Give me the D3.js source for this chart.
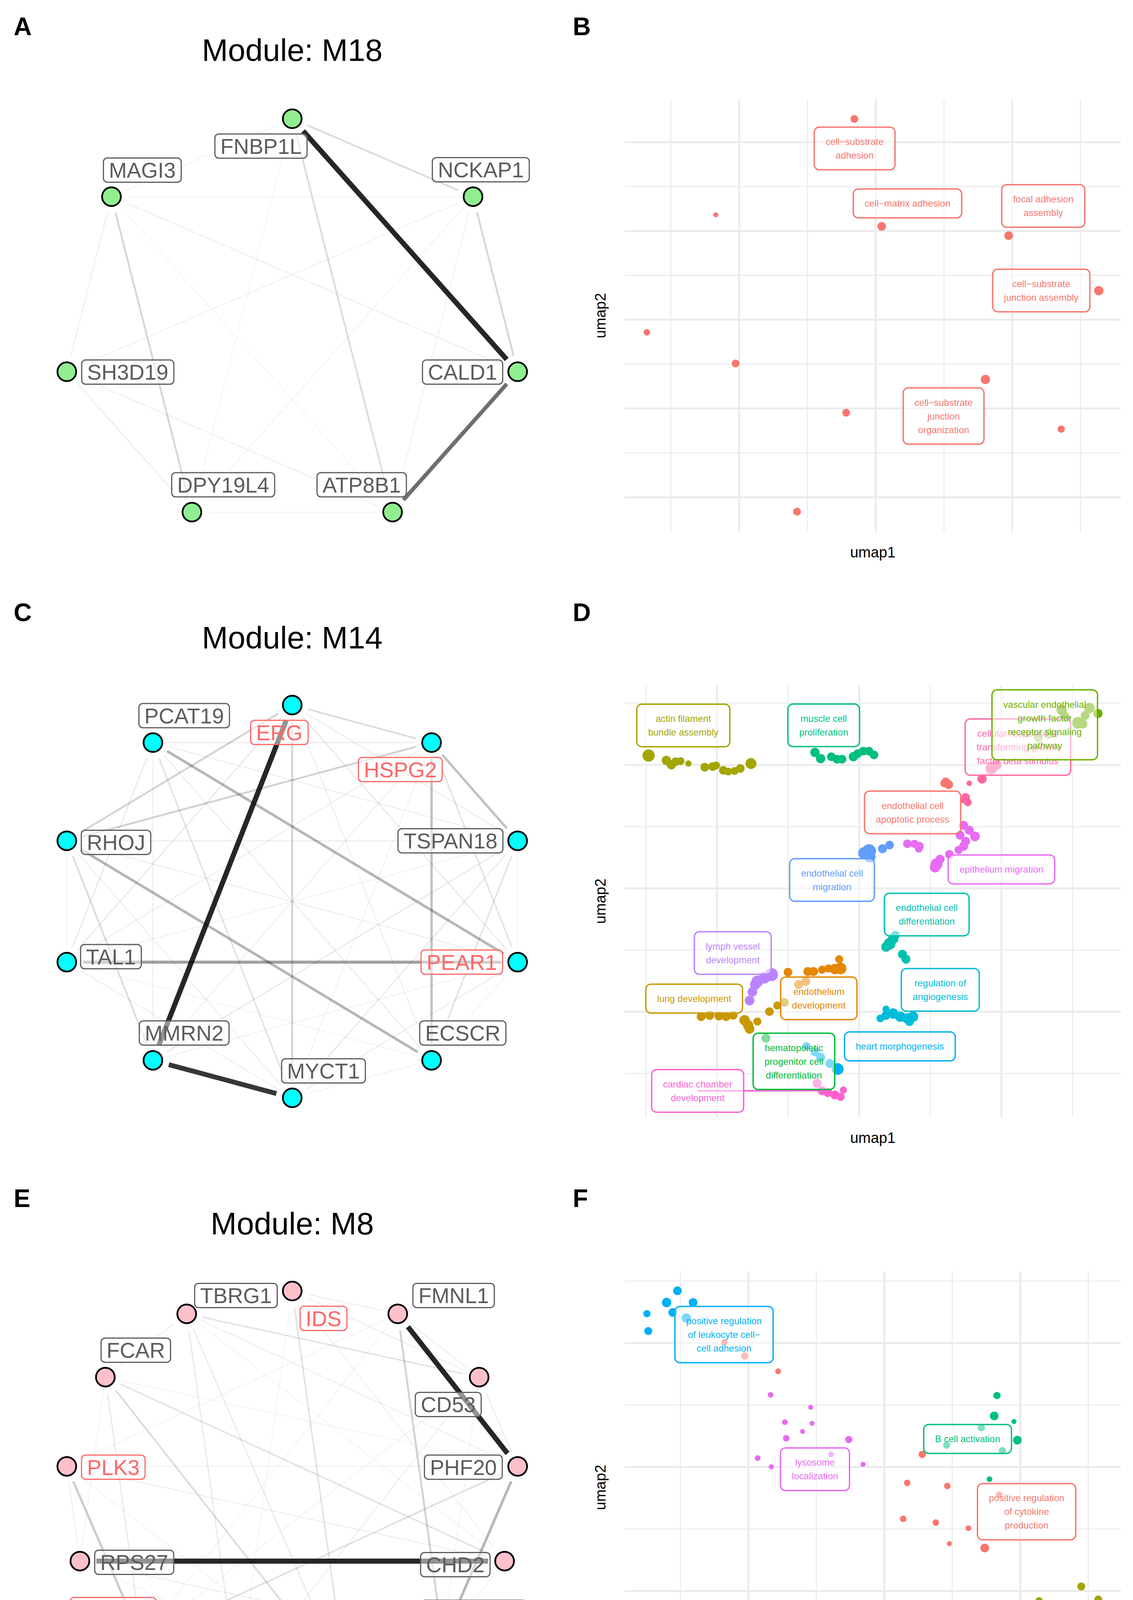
<!DOCTYPE html>
<html>
<head>
<meta charset="utf-8">
<script src="https://cdn.jsdelivr.net/npm/d3@7"></script>
<style>
  body { margin: 0; background: #fff; }
  svg { display: block; }
</style>
</head>
<body>
<div class="chart"></div>
<script>
// ---- network data (co-expression modules) ----
let m18Genes = ['FNBP1L', 'NCKAP1', 'CALD1', 'ATP8B1', 'DPY19L4', 'SH3D19', 'MAGI3'];
let m18Red = [];
let m18Edges = [
  ['FNBP1L', 'CALD1', 1.0], ['CALD1', 'ATP8B1', 0.75], ['FNBP1L', 'NCKAP1', 0.25],
  ['FNBP1L', 'ATP8B1', 0.25], ['MAGI3', 'DPY19L4', 0.28], ['NCKAP1', 'CALD1', 0.28],
  ['SH3D19', 'DPY19L4', 0.12], ['MAGI3', 'SH3D19', 0.1], ['SH3D19', 'ATP8B1', 0.1],
  ['MAGI3', 'CALD1', 0.1], ['SH3D19', 'NCKAP1', 0.08], ['NCKAP1', 'ATP8B1', 0.08],
  ['FNBP1L', 'MAGI3', 0.06], ['MAGI3', 'NCKAP1', 0.05], ['NCKAP1', 'DPY19L4', 0.05],
  ['FNBP1L', 'DPY19L4', 0.04], ['DPY19L4', 'ATP8B1', 0.04], ['MAGI3', 'ATP8B1', 0.04]
];

let m14Genes = ['ERG', 'HSPG2', 'TSPAN18', 'PEAR1', 'ECSCR', 'MYCT1', 'MMRN2', 'TAL1', 'RHOJ', 'PCAT19'];
let m14Red = ['ERG', 'HSPG2', 'PEAR1'];
let m14Edges = [
  ['ERG', 'MMRN2', 1.0], ['MMRN2', 'MYCT1', 0.95], ['TAL1', 'PEAR1', 0.55],
  ['PCAT19', 'PEAR1', 0.45], ['RHOJ', 'ECSCR', 0.45], ['HSPG2', 'ECSCR', 0.4],
  ['HSPG2', 'TSPAN18', 0.4], ['ERG', 'MYCT1', 0.3], ['HSPG2', 'RHOJ', 0.3],
  ['ERG', 'RHOJ', 0.3], ['ERG', 'HSPG2', 0.25], ['RHOJ', 'MMRN2', 0.25],
  ['PCAT19', 'MYCT1', 0.2], ['TSPAN18', 'ECSCR', 0.2], ['HSPG2', 'PEAR1', 0.2],
  ['ERG', 'PEAR1', 0.15], ['TSPAN18', 'MMRN2', 0.15], ['TSPAN18', 'MYCT1', 0.15],
  ['TAL1', 'PCAT19', 0.15], ['TAL1', 'ERG', 0.15], ['PCAT19', 'HSPG2', 0.12],
  ['RHOJ', 'TSPAN18', 0.12], ['PCAT19', 'ECSCR', 0.12], ['ERG', 'TSPAN18', 0.12],
  ['PEAR1', 'MYCT1', 0.12], ['TAL1', 'MYCT1', 0.1], ['RHOJ', 'PEAR1', 0.1],
  ['TAL1', 'HSPG2', 0.1], ['MMRN2', 'HSPG2', 0.1], ['PCAT19', 'TSPAN18', 0.1],
  ['PCAT19', 'MMRN2', 0.1], ['ERG', 'ECSCR', 0.1], ['RHOJ', 'MYCT1', 0.1],
  ['ECSCR', 'MYCT1', 0.08], ['PEAR1', 'MMRN2', 0.08], ['TAL1', 'TSPAN18', 0.08],
  ['HSPG2', 'MYCT1', 0.08], ['TAL1', 'ECSCR', 0.06], ['RHOJ', 'TAL1', 0.06],
  ['PEAR1', 'ECSCR', 0.06], ['TSPAN18', 'PEAR1', 0.05]
];

let m8Genes = ['IDS', 'FMNL1', 'CD53', 'PHF20', 'CHD2', 'DNAJB14', 'RAB11FIP1', 'FRYL', 'NAMPT', 'RPS27', 'PLK3', 'FCAR', 'TBRG1'];
let m8Red = ['IDS', 'PLK3', 'NAMPT'];
let m8Edges = [
  ['FMNL1', 'PHF20', 1.0], ['RPS27', 'CHD2', 1.0], ['PHF20', 'DNAJB14', 0.45],
  ['PLK3', 'NAMPT', 0.35], ['FRYL', 'DNAJB14', 0.3], ['FMNL1', 'DNAJB14', 0.3],
  ['FCAR', 'RAB11FIP1', 0.25], ['IDS', 'RAB11FIP1', 0.2], ['FCAR', 'CHD2', 0.2],
  ['PHF20', 'NAMPT', 0.22], ['TBRG1', 'CD53', 0.2], ['TBRG1', 'RAB11FIP1', 0.15],
  ['TBRG1', 'FRYL', 0.15], ['FCAR', 'NAMPT', 0.15], ['RAB11FIP1', 'DNAJB14', 0.15],
  ['CD53', 'PHF20', 0.12], ['PLK3', 'CHD2', 0.1], ['TBRG1', 'PHF20', 0.1],
  ['IDS', 'CD53', 0.1], ['FCAR', 'TBRG1', 0.1], ['RPS27', 'DNAJB14', 0.1],
  ['CD53', 'FRYL', 0.1], ['FMNL1', 'CD53', 0.1], ['RPS27', 'PLK3', 0.1],
  ['IDS', 'FMNL1', 0.1], ['IDS', 'CHD2', 0.08], ['FRYL', 'RAB11FIP1', 0.08],
  ['NAMPT', 'DNAJB14', 0.08], ['PLK3', 'FMNL1', 0.06], ['TBRG1', 'IDS', 0.05],
  ['PLK3', 'PHF20', 0.06], ['FCAR', 'PHF20', 0.06], ['NAMPT', 'CD53', 0.06],
  ['RPS27', 'FCAR', 0.06], ['RPS27', 'RAB11FIP1', 0.05], ['TBRG1', 'CHD2', 0.05],
  ['PLK3', 'RAB11FIP1', 0.05], ['FMNL1', 'NAMPT', 0.05], ['IDS', 'FRYL', 0.05],
  ['CD53', 'DNAJB14', 0.05], ['FRYL', 'NAMPT', 0.05], ['CHD2', 'DNAJB14', 0.05]
];

// ---- GO term umap data: [term index, umap1, umap2, -log10 padj] ----
let bTerms = ['cell-substrate adhesion', 'cell-matrix adhesion', 'focal adhesion assembly',
  'cell-substrate junction assembly', 'cell-substrate junction organization'];
let bPoints = [
  [0, -0.31, 4.52, 4.7], [0, -2.34, 2.36, 2.2], [0, 0.09, 2.10, 5.6], [0, 1.95, 1.89, 5.6],
  [0, 3.27, 0.65, 6.5], [0, -3.35, -0.29, 3.4], [0, -2.05, -0.99, 4.7], [0, 1.61, -1.35, 6.5],
  [0, -0.43, -2.10, 4.7], [0, 2.72, -2.47, 4.1], [0, -1.15, -4.33, 4.7]
];

let dTerms = ['actin filament bundle assembly', 'muscle cell proliferation',
  'cellular response to transforming growth factor beta stimulus',
  'vascular endothelial growth factor receptor signaling pathway',
  'endothelial cell apoptotic process', 'epithelium migration', 'endothelial cell migration',
  'endothelial cell differentiation', 'lymph vessel development', 'lung development',
  'endothelium development', 'regulation of angiogenesis', 'heart morphogenesis',
  'hematopoietic progenitor cell differentiation', 'cardiac chamber development'];
let dPoints = [
  [0, -2.96, 2.15, 10.8], [0, -2.71, 2.07, 6.5], [0, -2.64, 2.00, 6.5], [0, -2.58, 2.05, 5.6],
  [0, -2.51, 2.06, 4.7], [0, -2.40, 2.02, 3.2], [0, -2.17, 1.96, 5.6], [0, -2.06, 1.97, 5.6],
  [0, -2.01, 1.99, 4.7], [0, -1.91, 1.91, 5.6], [0, -1.84, 1.89, 4.7], [0, -1.75, 1.90, 4.7],
  [0, -1.67, 1.94, 5.6], [0, -1.52, 2.02, 8.8],
  [1, -0.62, 2.20, 6.5], [1, -0.54, 2.10, 6.5], [1, -0.39, 2.13, 5.6], [1, -0.31, 2.09, 5.6],
  [1, -0.24, 2.09, 5.6], [1, -0.08, 2.13, 6.5], [1, -0.02, 2.18, 5.6], [1, 0.06, 2.22, 5.6],
  [1, 0.14, 2.22, 5.6], [1, 0.21, 2.16, 5.6],
  [2, 1.86, 1.94, 10], [2, 1.93, 2.00, 8], [2, 1.73, 1.77, 6.5], [2, 1.55, 1.70, 2.5],
  [2, 1.50, 1.47, 5.6], [2, 1.53, 1.39, 4.7], [2, 1.47, 1.43, 4],
  [3, 3.36, 2.83, 6.5], [3, 3.24, 2.92, 8], [3, 3.18, 2.80, 6], [3, 3.08, 2.68, 10],
  [3, 3.15, 2.66, 6], [3, 2.85, 2.89, 8], [3, 2.90, 2.78, 6], [3, 2.67, 2.50, 7], [3, 2.52, 2.44, 6],
  [4, 1.22, 1.72, 6], [4, 1.26, 1.68, 6], [4, 1.20, 1.70, 5],
  [5, 1.47, 1.02, 6], [5, 1.55, 0.94, 6], [5, 1.63, 0.84, 7], [5, 1.42, 0.86, 6], [5, 1.50, 0.76, 6],
  [5, 1.47, 0.68, 6], [5, 1.40, 0.62, 5], [5, 1.27, 0.55, 5.6], [5, 1.14, 0.47, 6], [5, 1.09, 0.39, 10],
  [5, 1.07, 0.34, 8], [5, 0.68, 0.72, 5.6], [5, 0.78, 0.72, 5], [5, 0.85, 0.68, 5.6], [5, 0.84, 0.64, 4.7],
  [6, 0.14, 0.60, 14], [6, 0.15, 0.51, 10], [6, 0.07, 0.57, 10], [6, 0.33, 0.64, 6], [6, 0.43, 0.70, 5.6],
  [7, 0.43, -0.90, 10], [7, 0.48, -0.82, 8], [7, 0.38, -0.95, 7], [7, 0.51, -0.76, 5.6],
  [7, 0.61, -1.07, 6], [7, 0.66, -1.15, 6],
  [8, -1.23, -1.40, 12], [8, -1.33, -1.45, 10], [8, -1.43, -1.51, 10], [8, -1.46, -1.56, 8],
  [8, -1.50, -1.68, 7], [8, -1.54, -1.82, 7],
  [9, -2.22, -2.08, 6], [9, -2.10, -2.06, 6], [9, -1.97, -2.07, 6], [9, -1.87, -2.08, 6],
  [9, -1.77, -2.06, 5.6], [9, -1.61, -2.14, 8], [9, -1.56, -2.22, 8], [9, -1.54, -2.28, 7],
  [9, -1.43, -2.16, 5], [9, -1.26, -2.00, 5.6], [9, -1.15, -1.90, 5], [9, -1.05, -1.85, 5.6],
  [10, -1.00, -1.36, 5.6], [10, -0.72, -1.35, 6], [10, -0.64, -1.35, 6], [10, -0.52, -1.32, 5],
  [10, -0.43, -1.30, 5], [10, -0.34, -1.31, 8], [10, -0.26, -1.30, 10], [10, -0.28, -1.15, 5],
  [10, -0.85, -1.56, 6], [10, -0.75, -1.51, 6],
  [11, 0.30, -2.11, 4.7], [11, 0.38, -1.96, 4], [11, 0.38, -2.06, 6], [11, 0.48, -2.03, 8],
  [11, 0.58, -2.08, 8], [11, 0.68, -2.11, 8], [11, 0.76, -2.08, 8], [11, 0.71, -2.16, 6],
  [12, -0.30, -2.93, 10], [12, -0.41, -2.84, 6], [12, -0.54, -2.74, 6], [12, -0.62, -2.65, 6],
  [12, -0.74, -2.56, 5],
  [13, -1.31, -2.43, 6],
  [14, -0.52, -3.28, 6], [14, -0.44, -3.31, 6], [14, -0.34, -3.35, 6], [14, -0.26, -3.38, 5],
  [14, -0.22, -3.27, 4], [14, -0.59, -3.16, 6]
];

let fTerms = ['positive regulation of cytokine production', 'RNA splicing', 'B cell activation',
  'positive regulation of leukocyte cell-cell adhesion', 'lysosome localization'];
let fPoints = [
  [3, -3.04, 2.84, 5.7], [3, -3.20, 2.65, 6.7], [3, -2.81, 2.65, 5.7], [3, -3.49, 2.47, 4.1],
  [3, -3.11, 2.49, 5.7], [3, -3.47, 2.19, 4.8], [3, -2.91, 2.40, 6.7],
  [0, -2.35, 2.01, 3.4], [0, -2.05, 1.79, 4.1], [0, -1.56, 1.54, 2.7], [0, 0.56, 0.20, 4.1],
  [0, 0.34, -0.26, 3.4], [0, 0.93, -0.31, 3.4], [0, 0.28, -0.84, 3.4], [0, 0.76, -0.90, 3.4],
  [0, 1.24, -0.99, 2.7], [0, 0.96, -1.24, 2.2], [0, 1.48, -1.31, 5.7], [0, 1.69, -0.45, 3.4],
  [0, 0.94, -3.19, 4.8], [0, 0.87, -3.27, 4.1], [0, 0.67, -3.45, 3.4], [0, 0.64, -3.50, 3.4],
  [4, -1.67, 1.16, 2.7], [4, -1.08, 0.96, 2.2], [4, -1.46, 0.72, 2.7], [4, -1.06, 0.70, 2.2],
  [4, -1.20, 0.57, 2.2], [4, -1.44, 0.46, 3.4], [4, -0.52, 0.44, 4.1], [4, -1.86, 0.14, 2.7],
  [4, -1.66, 0.00, 2.2], [4, -0.78, 0.20, 2.7], [4, -0.31, 0.04, 2.2],
  [2, 1.66, 1.15, 4.1], [2, 1.62, 0.82, 5.7], [2, 1.91, 0.73, 2.2], [2, 1.96, 0.43, 5.7],
  [2, 1.43, 0.63, 4.1], [2, 0.92, 0.35, 4.1], [2, 1.74, 0.26, 4.1], [2, 1.55, -0.20, 2.7],
  [1, 2.90, -1.93, 4.8], [1, 2.28, -2.16, 4.1], [1, 3.15, -2.14, 4.8], [1, 2.66, -2.26, 4.1],
  [1, 2.76, -2.39, 5.7], [1, 3.03, -2.41, 4.1]
];

// legend breaks
let connBreaks = [0, 0.25, 0.5, 0.75, 1];
let nlpBreaks = [1.3, 10, 20, 40];

// ---- layout of repelled labels (pixel nudges / umap coords) ----
let nodeNudge = {
  FNBP1L: [-80, 70], NCKAP1: [20, -69], CALD1: [-141, 1], ATP8B1: [-79, -70],
  DPY19L4: [80, -70], SH3D19: [156, 1], MAGI3: [79, -68],
  ERG: [-33, 70], HSPG2: [-80, 69], TSPAN18: [-172, 0], PEAR1: [-143, 0], ECSCR: [80, -70],
  MYCT1: [80, -69], MMRN2: [80, -70], TAL1: [113, -14], RHOJ: [126, 4], PCAT19: [80, -69],
  IDS: [80, 70], FMNL1: [143, -47], CD53: [-79, 70], PHF20: [-139, 2], CHD2: [-126, 9],
  DNAJB14: [79, -70], RAB11FIP1: [-81, -70], FRYL: [-103, -70], NAMPT: [-73, -77],
  RPS27: [139, 3], PLK3: [119, 2], FCAR: [78, -69], TBRG1: [126, -47]
};
let bLabelAt = [[-0.306, 3.855], [0.468, 2.617], [2.457, 2.559], [2.428, 0.654], [0.997, -2.175]];
let dLabelAt = [[-2.472, 2.637], [-0.497, 2.639], [2.235, 2.287], [2.612, 2.647], [0.753, 1.229],
  [2.003, 0.305], [-0.380, 0.134], [0.952, -0.426], [-1.776, -1.050], [-2.319, -1.789],
  [-0.566, -1.784], [1.143, -1.647], [0.574, -2.563], [-0.916, -2.805], [-2.270, -3.284]];
let fLabelAt = [[2.096, -0.724], [2.376, -2.761], [1.228, 0.449], [-2.355, 2.133], [-1.017, -0.04]];

let bColors = ['#F8766D', '#F8766D', '#F8766D', '#F8766D', '#F8766D'];
let dColors = ['#A3A500', '#00BF7D', '#FF67A4', '#6BB100', '#F8766D', '#E76BF3', '#619CFF',
  '#00C0AF', '#B983FF', '#C99800', '#E58700', '#00BCD8', '#00B0F6', '#00BA38', '#FD61D1'];
let fColors = ['#F8766D', '#A3A500', '#00BF7D', '#00B0F6', '#E76BF3'];

let font = '"Liberation Sans", Arial, Helvetica, sans-serif';

let svg = d3.select('.chart')
  .append('svg')
    .attr('width', 2900)
    .attr('height', 4806)
    .style('font-family', font);

svg.append('rect').attr('width', 2900).attr('height', 4806).attr('fill', '#fff');

// size scale shared by umap points and legend (area proportional)
let nlpArea = d3.scaleLinear().domain([1.3, 40]).range([4.5 * 4.5, 30.5 * 30.5]).clamp(true);
let nlpR = v => Math.sqrt(nlpArea(v));
let connArea = d3.scaleLinear().domain([0, 1]).range([4.5 * 4.5, 27 * 27]);

function panelLetter(txt, x, y) {
  svg.append('text').attr('x', x).attr('y', y)
    .attr('font-size', 64).attr('font-weight', 'bold').text(txt);
}

function drawNetwork(genes, red, edges, fill, top, bottom, title, titleY) {
  let g = svg.append('g');
  let n = genes.length;
  let layout = genes.map((name, i) => ({
    name: name,
    lx: Math.sin(2 * Math.PI * i / n),
    ly: Math.cos(2 * Math.PI * i / n)
  }));
  let x = d3.scaleLinear().domain(d3.extent(layout, d => d.lx)).range([171, 1325]);
  let y = d3.scaleLinear().domain(d3.extent(layout, d => d.ly)).range([bottom, top]);
  let pos = {};
  layout.forEach(d => { pos[d.name] = [x(d.lx), y(d.ly)]; });

  let opac = d3.scalePow().exponent(1.5).domain([0, 1]).range([0.04, 0.85]);
  let wid = d3.scaleLinear().domain([0, 1]).range([1.5, 13]);
  let cap = 42;

  // light edges first so heavy ones sit on top
  let sorted = edges.slice().sort((a, b) => a[2] - b[2]);
  g.selectAll('line.edge')
    .data(sorted)
    .join('line')
      .attr('class', 'edge')
      .each(function(d) {
        let [x1, y1] = pos[d[0]], [x2, y2] = pos[d[1]];
        let len = Math.hypot(x2 - x1, y2 - y1);
        let ux = (x2 - x1) / len, uy = (y2 - y1) / len;
        d3.select(this)
          .attr('x1', x1 + ux * cap).attr('y1', y1 + uy * cap)
          .attr('x2', x2 - ux * cap).attr('y2', y2 - uy * cap);
      })
      .attr('stroke', '#000')
      .attr('stroke-opacity', d => opac(d[2]))
      .attr('stroke-width', d => wid(d[2]));

  g.selectAll('circle.node')
    .data(layout)
    .join('circle')
      .attr('class', 'node')
      .attr('cx', d => x(d.lx))
      .attr('cy', d => y(d.ly))
      .attr('r', 24)
      .attr('fill', fill)
      .attr('stroke', '#000')
      .attr('stroke-width', 4.5);

  layout.forEach(d => {
    let nudge = nodeNudge[d.name];
    let cx = pos[d.name][0] + nudge[0];
    let cy = pos[d.name][1] + nudge[1];
    let col = red.includes(d.name) ? '#FF6666' : '#5c5c5c';
    let lg = g.append('g');
    let box = lg.append('rect');
    let t = lg.append('text')
      .attr('x', cx).attr('y', cy).attr('dy', '0.36em')
      .attr('text-anchor', 'middle')
      .attr('font-size', 55)
      .attr('fill', col)
      .text(d.name);
    let w = t.node().getComputedTextLength();
    box.attr('x', cx - w / 2 - 14).attr('y', cy - 31)
      .attr('width', w + 28).attr('height', 62)
      .attr('rx', 10)
      .attr('fill', '#fff').attr('fill-opacity', 0.5)
      .attr('stroke', col).attr('stroke-width', 3);
  });

  svg.append('text')
    .attr('x', 748).attr('y', titleY)
    .attr('text-anchor', 'middle')
    .attr('font-size', 80)
    .text(title);
}

// ggplot-like str_wrap at width 20 (break at spaces or after a hyphen)
function wrapTerm(s, width) {
  let lines = [], line = '';
  s.replace(/-/g, '\u2212').split(' ').forEach(word => {
    word.split(/(?<=\u2212)/).forEach((p, i) => {
      let sep = (i === 0 && line) ? ' ' : '';
      if (line && (line + sep + p).length > width) { lines.push(line); line = p; }
      else line = line + sep + p;
    });
  });
  if (line) lines.push(line);
  return lines;
}

function drawUmap(terms, points, labelAt, colors, top, bottom, xDomain, yDomain, order, segments) {
  let left = 1599, right = 2869;
  let g = svg.append('g');
  let x = d3.scaleLinear().domain(xDomain).range([left, right]);
  let y = d3.scaleLinear().domain(yDomain).range([bottom, top]);
  let inX = v => v >= xDomain[0] && v <= xDomain[1];
  let inY = v => v >= yDomain[0] && v <= yDomain[1];

  function grid(vals, isX, sw) {
    let axis = isX
      ? d3.axisBottom(x).tickValues(vals.filter(inX)).tickSize(-(bottom - top)).tickFormat('')
      : d3.axisLeft(y).tickValues(vals.filter(inY)).tickSize(-(right - left)).tickFormat('');
    g.append('g')
      .attr('transform', isX ? `translate(0, ${bottom})` : `translate(${left}, 0)`)
      .call(axis)
      .call(a => a.select('.domain').remove())
      .selectAll('line')
        .attr('stroke', '#ebebeb')
        .attr('stroke-width', sw);
  }
  // minor then major grid
  grid([-5, -3, -1, 1, 3, 5], true, 2.6);
  grid([-5, -3, -1, 1, 3, 5], false, 2.6);
  grid([-4, -2, 0, 2, 4], true, 5);
  grid([-4, -2, 0, 2, 4], false, 5);

  // label segments
  (segments || []).forEach(s => {
    let la = labelAt[s[0]];
    g.append('line')
      .attr('x1', x(la[0])).attr('y1', y(la[1]))
      .attr('x2', x(s[1])).attr('y2', y(s[2]))
      .attr('stroke', colors[s[0]]).attr('stroke-width', 4);
  });

  g.selectAll('circle.pt')
    .data(points)
    .join('circle')
      .attr('class', 'pt')
      .attr('cx', d => x(d[1]))
      .attr('cy', d => y(d[2]))
      .attr('r', d => nlpR(d[3]))
      .attr('fill', d => colors[d[0]]);

  let lh = 35;
  order.forEach(i => {
    let lines = wrapTerm(terms[i], 20);
    let cx = x(labelAt[i][0]), cy = y(labelAt[i][1]);
    let lg = g.append('g');
    let box = lg.append('rect');
    let t = lg.append('text')
      .attr('text-anchor', 'middle')
      .attr('font-size', 24)
      .attr('fill', colors[i]);
    lines.forEach((l, k) => {
      t.append('tspan')
        .attr('x', cx)
        .attr('y', cy + (k - (lines.length - 1) / 2) * lh + 8.5)
        .text(l);
    });
    let w = d3.max(t.selectAll('tspan').nodes(), nd => nd.getComputedTextLength());
    let h = lines.length * lh + 39;
    box.attr('x', cx - w / 2 - 29).attr('y', cy - h / 2)
      .attr('width', w + 58).attr('height', h)
      .attr('rx', 13)
      .attr('fill', '#fff').attr('fill-opacity', 0.5)
      .attr('stroke', colors[i]).attr('stroke-width', 3.5);
  });

  g.append('text')
    .attr('x', (left + right) / 2).attr('y', bottom + 66)
    .attr('text-anchor', 'middle').attr('font-size', 38)
    .text('umap1');
  g.append('text')
    .attr('transform', `translate(1550, ${(top + bottom) / 2}) rotate(-90)`)
    .attr('text-anchor', 'middle').attr('font-size', 38)
    .text('umap2');
}

// ---- left column: networks ----
drawNetwork(m18Genes, m18Red, m18Edges, '#90EE90', 304, 1311, 'Module: M18', 156);
drawNetwork(m14Genes, m14Red, m14Edges, '#00FFFF', 1805, 2810.5, 'Module: M14', 1660);
drawNetwork(m8Genes, m8Red, m8Edges, '#FFC0CB', 3305, 4311, 'Module: M8', 3160);

// ---- right column: umaps ----
drawUmap(bTerms, bPoints, bLabelAt, bColors, 255, 1361, [-3.674, 3.594], [-4.78, 4.956], [0, 1, 2, 3, 4]);
drawUmap(dTerms, dPoints, dLabelAt, dColors, 1754, 2860, [-3.296, 3.683], [-3.71, 3.29],
  [0, 1, 2, 3, 4, 5, 6, 7, 8, 9, 10, 11, 12, 13, 14], [[14, -0.52, -3.28]]);
drawUmap(fTerms, fPoints, fLabelAt, fColors, 3254.5, 4360.7, [-3.816, 3.483], [-3.817, 3.154], [0, 1, 2, 3, 4]);

panelLetter('A', 35, 90);
panelLetter('B', 1466, 90);
panelLetter('C', 35, 1590);
panelLetter('D', 1466, 1590);
panelLetter('E', 35, 3090);
panelLetter('F', 1466, 3090);

// ---- legends ----
function sizeLegend(vals, startX, cy, rOf, fmt) {
  let lx = startX;
  vals.forEach(v => {
    svg.append('circle').attr('cx', lx).attr('cy', cy).attr('r', rOf(v)).attr('fill', '#000');
    let t = svg.append('text')
      .attr('x', lx + 104).attr('y', cy).attr('dy', '0.36em')
      .attr('font-size', 48)
      .text(fmt(v));
    lx = lx + 104 + t.node().getComputedTextLength() + 100;
  });
}

svg.append('text')
  .attr('x', 846).attr('y', 4614)
  .attr('text-anchor', 'middle').attr('font-size', 64)
  .text('connectivity');
sizeLegend(connBreaks, 186, 4722, v => Math.sqrt(connArea(v)), d3.format('.2f'));

let pt = svg.append('text')
  .attr('x', 2300).attr('y', 4614)
  .attr('text-anchor', 'middle').attr('font-size', 64);
pt.append('tspan').text('\u2212log');
pt.append('tspan').attr('font-size', 45).attr('dy', 14).text('10');
pt.append('tspan').attr('dy', -14).text('(adjusted p\u2212value)');
sizeLegend(nlpBreaks, 1803, 4738, nlpR, d3.format('.1f'));
</script>
</body>
</html>
